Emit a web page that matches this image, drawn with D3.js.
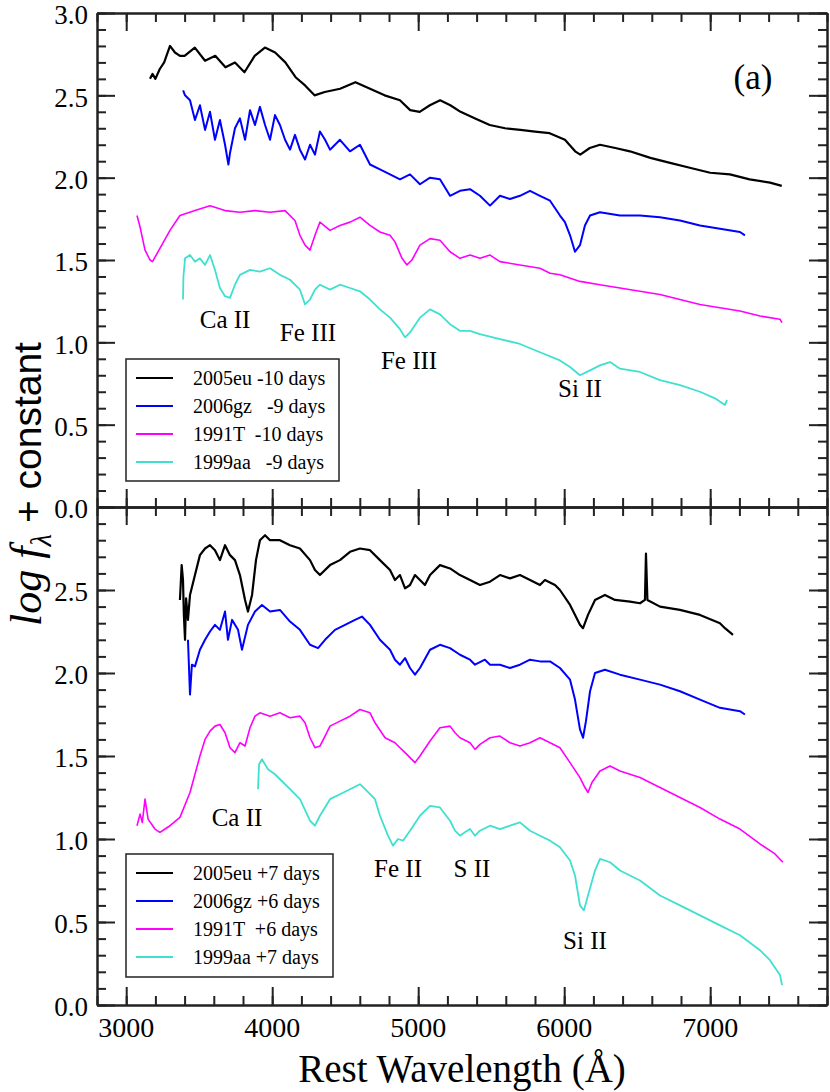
<!DOCTYPE html>
<html>
<head>
<meta charset="utf-8">
<script src="https://cdn.jsdelivr.net/npm/d3@7"></script>
<style>
    body { margin: 0; background: #fff; }
    svg text { font-family: "Liberation Serif", "Times New Roman", serif; fill: #000; }
    .axis path, .axis line { stroke: #222; stroke-width: 2; }
    .axis text { font-size: 27px; font-family: "Liberation Serif", "Times New Roman", serif; }
</style>
</head>
<body>
<div id="chart"></div>
<script>
// ---- data: [rest wavelength (A), log f + constant] ----
const eu05_m10 = [[3163,2.60],[3180,2.63],[3200,2.60],[3230,2.66],[3260,2.70],[3300,2.80],[3334,2.76],[3368,2.74],
    [3400,2.74],[3470,2.79],[3540,2.71],[3610,2.74],[3680,2.67],[3745,2.70],[3810,2.64],[3880,2.74],[3950,2.79],
    [4020,2.76],[4090,2.70],[4160,2.61],[4225,2.56],[4290,2.50],[4360,2.52],[4465,2.54],[4570,2.58],[4670,2.54],
    [4770,2.50],[4875,2.47],[4945,2.41],[5010,2.40],[5080,2.44],[5150,2.47],[5220,2.44],[5290,2.40],[5390,2.36],
    [5490,2.32],[5595,2.30],[5700,2.29],[5800,2.28],[5900,2.27],[6005,2.23],[6075,2.16],[6110,2.14],[6175,2.18],
    [6245,2.20],[6350,2.18],[6450,2.16],[6590,2.12],[6725,2.09],[6860,2.06],[7000,2.03],[7135,2.02],[7270,1.99],
    [7410,1.97],[7490,1.95]];
const gz06_m9 = [[3390,2.53],[3403,2.50],[3437,2.47],[3471,2.35],[3505,2.44],[3540,2.29],[3574,2.40],[3608,2.23],
    [3642,2.35],[3677,2.20],[3700,2.08],[3711,2.15],[3745,2.30],[3779,2.36],[3814,2.23],[3848,2.41],[3882,2.32],
    [3916,2.43],[3951,2.32],[3985,2.23],[4019,2.38],[4053,2.32],[4088,2.23],[4122,2.17],[4156,2.26],[4190,2.17],
    [4225,2.11],[4259,2.20],[4293,2.14],[4327,2.28],[4362,2.23],[4396,2.17],[4464,2.23],[4533,2.16],[4601,2.20],
    [4670,2.08],[4738,2.05],[4807,2.02],[4875,1.99],[4944,2.02],[5012,1.96],[5081,2.00],[5149,1.99],[5218,1.89],
    [5286,1.92],[5355,1.93],[5423,1.89],[5492,1.83],[5560,1.89],[5629,1.87],[5697,1.89],[5766,1.92],[5834,1.89],
    [5903,1.86],[5971,1.77],[6005,1.73],[6040,1.65],[6074,1.55],[6108,1.59],[6142,1.71],[6177,1.77],[6245,1.79],
    [6382,1.77],[6519,1.77],[6656,1.76],[6793,1.74],[6930,1.71],[7067,1.69],[7204,1.67],[7238,1.65]];
const t91_m10 = [[3074,1.77],[3095,1.70],[3129,1.56],[3163,1.50],[3180,1.49],[3231,1.57],[3300,1.68],[3368,1.77],
    [3471,1.80],[3574,1.83],[3677,1.80],[3779,1.79],[3882,1.80],[3985,1.79],[4088,1.80],[4156,1.74],[4190,1.65],
    [4225,1.59],[4259,1.56],[4293,1.65],[4327,1.73],[4396,1.68],[4464,1.71],[4533,1.73],[4601,1.76],[4670,1.71],
    [4738,1.67],[4807,1.65],[4841,1.61],[4889,1.51],[4923,1.47],[4957,1.50],[5012,1.59],[5081,1.63],[5149,1.62],
    [5218,1.55],[5286,1.51],[5355,1.53],[5423,1.51],[5492,1.53],[5560,1.49],[5697,1.47],[5834,1.45],[5903,1.42],
    [5971,1.41],[6108,1.37],[6245,1.35],[6382,1.33],[6519,1.31],[6656,1.29],[6793,1.26],[6930,1.23],[7067,1.21],
    [7204,1.19],[7341,1.16],[7478,1.14],[7492,1.12]];
const aa99_m9 = [[3389,1.26],[3392,1.40],[3403,1.51],[3437,1.53],[3471,1.49],[3505,1.51],[3540,1.47],[3574,1.53],
    [3608,1.44],[3642,1.33],[3677,1.28],[3711,1.27],[3745,1.35],[3779,1.41],[3848,1.44],[3916,1.43],[3985,1.45],
    [4053,1.41],[4122,1.38],[4190,1.32],[4225,1.23],[4259,1.26],[4293,1.32],[4327,1.35],[4396,1.32],[4464,1.35],
    [4533,1.33],[4601,1.31],[4670,1.26],[4738,1.20],[4807,1.15],[4875,1.08],[4910,1.03],[4944,1.06],[5012,1.15],
    [5081,1.20],[5149,1.17],[5218,1.11],[5286,1.07],[5355,1.07],[5423,1.05],[5560,1.02],[5697,0.99],[5834,0.94],
    [5971,0.89],[6040,0.85],[6108,0.80],[6177,0.83],[6245,0.86],[6314,0.88],[6382,0.84],[6519,0.82],[6656,0.77],
    [6793,0.74],[6930,0.70],[7033,0.66],[7101,0.62],[7115,0.65]];

const eu05_p7 = [[3368,2.44],[3380,2.65],[3389,2.56],[3395,2.35],[3403,2.20],[3410,2.45],[3423,2.32],[3437,2.47],
    [3471,2.59],[3505,2.71],[3540,2.75],[3574,2.77],[3608,2.74],[3642,2.68],[3677,2.77],[3711,2.71],[3745,2.68],
    [3779,2.59],[3814,2.44],[3834,2.37],[3862,2.47],[3889,2.68],[3916,2.80],[3951,2.83],[3985,2.80],[4053,2.80],
    [4122,2.77],[4190,2.75],[4259,2.68],[4293,2.62],[4327,2.59],[4396,2.65],[4464,2.68],[4533,2.73],[4601,2.75],
    [4670,2.74],[4738,2.68],[4807,2.62],[4841,2.56],[4875,2.59],[4910,2.51],[4944,2.53],[4978,2.59],[5012,2.56],
    [5046,2.53],[5081,2.59],[5149,2.65],[5218,2.63],[5286,2.59],[5355,2.56],[5423,2.53],[5492,2.55],[5560,2.59],
    [5629,2.57],[5697,2.59],[5766,2.56],[5834,2.53],[5868,2.56],[5937,2.53],[5971,2.50],[6040,2.41],[6108,2.29],
    [6129,2.27],[6163,2.35],[6211,2.44],[6279,2.47],[6348,2.44],[6451,2.43],[6519,2.42],[6553,2.44],[6560,2.72],
    [6570,2.44],[6656,2.40],[6793,2.38],[6930,2.35],[7067,2.30],[7101,2.27],[7156,2.23]];
const gz06_p6 = [[3423,2.20],[3437,1.87],[3450,2.05],[3471,2.04],[3505,2.14],[3540,2.20],[3574,2.25],[3608,2.29],
    [3642,2.26],[3677,2.37],[3697,2.20],[3725,2.32],[3766,2.26],[3793,2.14],[3834,2.29],[3882,2.37],[3930,2.41],
    [3985,2.37],[4053,2.38],[4122,2.31],[4190,2.26],[4259,2.17],[4314,2.15],[4362,2.20],[4430,2.26],[4499,2.29],
    [4567,2.32],[4615,2.34],[4670,2.29],[4738,2.20],[4807,2.14],[4841,2.08],[4875,2.05],[4910,2.09],[4944,2.03],
    [4978,1.99],[5012,2.03],[5081,2.14],[5149,2.17],[5218,2.15],[5286,2.11],[5355,2.08],[5389,2.05],[5457,2.08],
    [5492,2.05],[5560,2.05],[5629,2.03],[5697,2.05],[5766,2.08],[5834,2.07],[5903,2.07],[5971,2.03],[6040,1.96],
    [6074,1.84],[6108,1.66],[6129,1.61],[6149,1.71],[6177,1.89],[6211,2.00],[6279,2.02],[6382,1.99],[6519,1.96],
    [6656,1.93],[6793,1.89],[6930,1.84],[7067,1.79],[7204,1.77],[7238,1.75]];
const t91_p6 = [[3074,1.08],[3095,1.15],[3110,1.10],[3129,1.24],[3150,1.12],[3197,1.06],[3231,1.04],[3266,1.06],
    [3300,1.08],[3368,1.13],[3437,1.28],[3505,1.50],[3540,1.60],[3574,1.65],[3608,1.68],[3642,1.69],[3677,1.64],
    [3711,1.55],[3745,1.52],[3779,1.58],[3814,1.56],[3848,1.67],[3882,1.74],[3916,1.76],[3985,1.74],[4053,1.76],
    [4122,1.73],[4190,1.74],[4225,1.70],[4259,1.61],[4293,1.55],[4327,1.56],[4362,1.62],[4396,1.68],[4464,1.71],
    [4533,1.74],[4601,1.78],[4670,1.76],[4704,1.70],[4773,1.61],[4841,1.58],[4875,1.55],[4910,1.52],[4944,1.49],
    [4978,1.46],[5012,1.50],[5081,1.59],[5149,1.67],[5218,1.68],[5252,1.64],[5286,1.61],[5355,1.58],[5389,1.54],
    [5423,1.57],[5492,1.61],[5560,1.62],[5629,1.58],[5697,1.56],[5766,1.58],[5834,1.61],[5903,1.58],[5971,1.55],
    [6040,1.46],[6108,1.37],[6142,1.31],[6163,1.28],[6190,1.34],[6245,1.41],[6314,1.44],[6382,1.41],[6519,1.37],
    [6656,1.31],[6793,1.25],[6930,1.19],[7067,1.12],[7204,1.06],[7341,0.97],[7444,0.91],[7498,0.86]];
const aa99_p7 = [[3903,1.30],[3910,1.45],[3930,1.48],[3971,1.42],[4019,1.39],[4053,1.36],[4122,1.30],[4190,1.24],
    [4259,1.11],[4293,1.08],[4327,1.14],[4396,1.24],[4464,1.27],[4533,1.30],[4601,1.33],[4636,1.30],[4704,1.24],
    [4738,1.14],[4793,1.02],[4827,0.96],[4862,1.00],[4896,0.99],[4944,1.05],[5012,1.14],[5081,1.20],[5149,1.19],
    [5218,1.11],[5252,1.05],[5286,1.02],[5320,1.04],[5355,1.06],[5389,1.02],[5423,1.05],[5492,1.08],[5560,1.06],
    [5629,1.08],[5697,1.10],[5766,1.05],[5834,1.02],[5903,0.99],[5971,0.95],[6040,0.87],[6074,0.78],[6108,0.60],
    [6135,0.57],[6163,0.66],[6211,0.81],[6245,0.88],[6314,0.86],[6382,0.81],[6519,0.75],[6656,0.66],[6793,0.60],
    [6930,0.54],[7067,0.48],[7204,0.42],[7341,0.33],[7409,0.27],[7478,0.18],[7492,0.12]];

const colors = ['#000000', '#0000ff', '#ff00ff', '#40e0d0'];
const widths = [2.2, 2.0, 1.6, 1.8];
const legendTop = ['2005eu -10 days', '2006gz   -9 days', '1991T  -10 days', '1999aa   -9 days'];
const legendBottom = ['2005eu +7 days', '2006gz +6 days', '1991T  +6 days', '1999aa +7 days'];

// line labels: [text, wavelength, value]
const notesTop = [['Ca II', 3677, 1.09], ['Fe III', 4245, 1.01], ['Fe III', 4937, 0.84], ['Si II', 6108, 0.67]];
const notesBottom = [['Ca II', 3759, 1.08], ['Fe II', 4862, 0.77], ['S II', 5368, 0.77], ['Si II', 6142, 0.34]];

const xMajor = d3.range(3000, 7001, 1000);
const xMinor = d3.range(2800, 7801, 200);
const yMajor = d3.range(0, 3.01, 0.5);
const yMinor = d3.range(0, 3.01, 0.1);

const width = 830, height = 1092;
const left = 97, right = 827;
const serif = '"Liberation Serif", "Times New Roman", serif';

const svg = d3.select('#chart').append('svg')
    .attr('width', width)
    .attr('height', height);

const x = d3.scaleLinear().domain([2800, 7800]).range([left, right]);

function axisGroup(g, pos, horizontal) {
    return g.append('g')
        .attr('class', 'axis')
        .attr('transform', horizontal ? `translate(0,${pos})` : `translate(${pos},0)`);
}

function drawPanel(top, bottom, series, legend, notes, labelTop, legendBox) {
    const y = d3.scaleLinear().domain([0, 3]).range([bottom, top]);
    const g = svg.append('g');

    const line = d3.line()
        .x(d => x(d[0]))
        .y(d => y(d[1]));

    series.forEach((s, i) => {
        g.append('path')
            .datum(s)
            .attr('fill', 'none')
            .attr('stroke', colors[i])
            .attr('stroke-width', widths[i])
            .attr('stroke-linejoin', 'round')
            .attr('d', line);
    });

    // left axis with labels
    const labels = labelTop ? yMajor : yMajor.filter(v => v < 2.9);
    axisGroup(g, left, false)
        .call(d3.axisLeft(y).tickValues(yMajor).tickSize(-18).tickSizeOuter(0).tickPadding(9)
            .tickFormat(v => labels.some(l => Math.abs(l - v) < 1e-6) ? d3.format('.1f')(v) : ''))
        .attr('font-family', serif)
        .call(ax => ax.selectAll('text').attr('dy', '0.4em'));
    axisGroup(g, left, false)
        .call(d3.axisLeft(y).tickValues(yMinor).tickSize(-9).tickSizeOuter(0).tickFormat(''));

    // right axis
    axisGroup(g, right, false)
        .call(d3.axisRight(y).tickValues(yMajor).tickSize(-18).tickSizeOuter(0).tickFormat(''));
    axisGroup(g, right, false)
        .call(d3.axisRight(y).tickValues(yMinor).tickSize(-9).tickSizeOuter(0).tickFormat(''));

    // top and bottom edges, ticks pointing inward
    [[top, d3.axisTop], [bottom, d3.axisBottom]].forEach(([pos, fn]) => {
        axisGroup(g, pos, true)
            .call(fn(x).tickValues(xMajor).tickSize(-18).tickSizeOuter(0).tickFormat(''));
        axisGroup(g, pos, true)
            .call(fn(x).tickValues(xMinor).tickSize(-9).tickSizeOuter(0).tickFormat(''));
    });

    // line identifications
    g.selectAll('.note')
        .data(notes)
        .enter().append('text')
        .attr('class', 'note')
        .attr('x', d => x(d[1]))
        .attr('y', d => y(d[2]))
        .attr('text-anchor', 'middle')
        .style('font-family', serif)
        .style('font-size', '25px')
        .text(d => d[0]);

    // legend
    const lg = g.append('g').attr('transform', `translate(${legendBox.x},${legendBox.y})`);
    lg.append('rect')
        .attr('width', legendBox.w)
        .attr('height', legendBox.h)
        .attr('fill', '#fff')
        .attr('stroke', '#222')
        .attr('stroke-width', 1.5);
    legend.forEach((name, i) => {
        const cy = 19 + i * 28;
        lg.append('line')
            .attr('x1', 10).attr('x2', 47)
            .attr('y1', cy).attr('y2', cy)
            .attr('stroke', colors[i])
            .attr('stroke-width', 2);
        lg.append('text')
            .attr('x', 67)
            .attr('y', cy + 7)
            .style('font-family', serif)
            .style('font-size', '20px')
            .style('white-space', 'pre')
            .text(name);
    });

    return y;
}

const yTop = drawPanel(13, 507, [eu05_m10, gz06_m9, t91_m10, aa99_m9], legendTop, notesTop, true,
    { x: 126, y: 359, w: 213, h: 122 });
drawPanel(507, 1005, [eu05_p7, gz06_p6, t91_p6, aa99_p7], legendBottom, notesBottom, false,
    { x: 126, y: 854, w: 207, h: 123 });

svg.append('text')
    .attr('x', x(7293))
    .attr('y', yTop(2.54))
    .attr('text-anchor', 'middle')
    .style('font-family', serif)
    .style('font-size', '35px')
    .text('(a)');

// x tick labels under the lower panel
svg.append('g').selectAll('text')
    .data(xMajor)
    .enter().append('text')
    .attr('x', d => x(d))
    .attr('y', 1037)
    .attr('text-anchor', 'middle')
    .style('font-family', serif)
    .style('font-size', '28px')
    .text(d => d);

svg.append('text')
    .attr('x', (left + right) / 2)
    .attr('y', 1082)
    .attr('text-anchor', 'middle')
    .style('font-family', serif)
    .style('font-size', '39px')
    .text('Rest Wavelength (Å)');

const yt = svg.append('text')
    .attr('transform', 'translate(41,484) rotate(-90)')
    .attr('text-anchor', 'middle');
yt.append('tspan').style('font-family', serif).style('font-style', 'italic')
    .style('font-size', '44px').text('log f');
yt.append('tspan').style('font-family', serif).style('font-style', 'italic')
    .style('font-size', '29px').attr('dy', 10).text('λ');
yt.append('tspan').attr('dy', -10).style('font-family', '"Liberation Sans", Arial, sans-serif')
    .style('font-size', '39px').text(' + constant');
</script>
</body>
</html>
